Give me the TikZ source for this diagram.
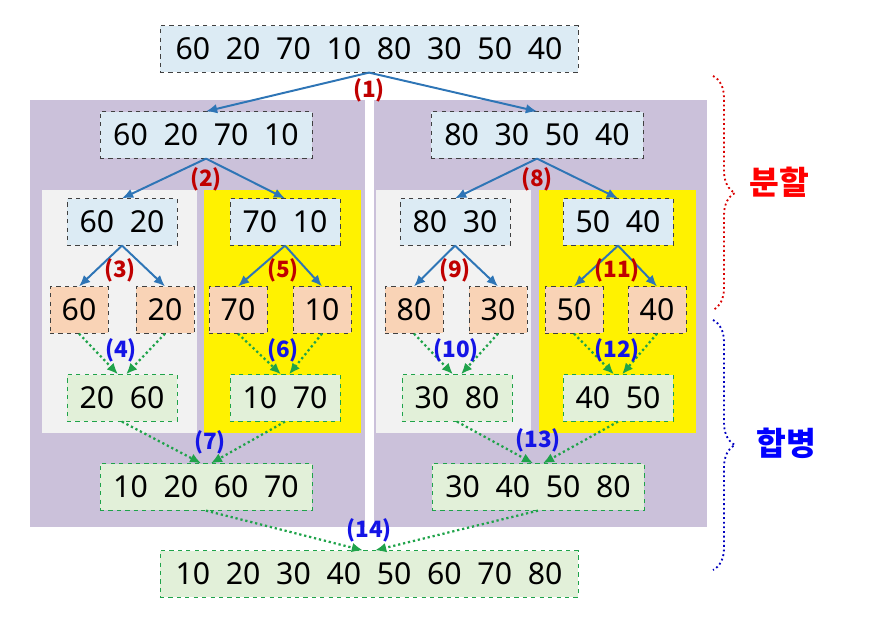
\documentclass[tikz,border=0pt]{standalone}
\usepackage{fontspec}
\setmainfont{Noto Sans}
\newfontfamily\krfont{Noto Sans CJK KR}
\usetikzlibrary{arrows.meta,positioning,decorations.pathreplacing}
\definecolor{splitfill}{HTML}{DCEBF4}
\definecolor{leaffill}{HTML}{F9D3B6}
\definecolor{mergefill}{HTML}{E2F0D9}
\definecolor{boxline}{HTML}{404040}
\definecolor{mergegreen}{HTML}{1FA34A}
\definecolor{splitarrow}{HTML}{2E75B6}
\definecolor{splitred}{HTML}{C00000}
\definecolor{mergeblue}{HTML}{1414E6}
\definecolor{panelpurple}{HTML}{CBC1DA}
\definecolor{panelgrey}{HTML}{F2F2F2}
\newcommand{\numsize}{\fontsize{21.5}{24}\selectfont}
\newcommand{\lblsize}{\krfont\fontsize{16}{18}\selectfont\bfseries}
\tikzstyle{box} = [rectangle, draw=boxline, dashed, line width=0.6pt, fill=splitfill, minimum height=1.16cm, inner sep=0pt, font=\numsize]
\tikzstyle{leaf} = [box, fill=leaffill, minimum width=1.45cm]
\tikzstyle{merged} = [box, draw=mergegreen, fill=mergefill]
\tikzstyle{line} = [draw, -{Latex[length=2.8mm,width=2.4mm]}, splitarrow, line width=1.4pt]
\tikzstyle{mline} = [draw, -{Latex[length=2.8mm,width=2.4mm]}, mergegreen, dotted, line width=1.6pt]
\tikzstyle{splitlbl} = [text=splitred, font=\lblsize, inner sep=0pt]
\tikzstyle{mergelbl} = [text=mergeblue, font=\lblsize, inner sep=0pt]
\tikzstyle{phase} = [dotted, line width=1.3pt, decorate, decoration={brace, amplitude=0.55cm}]

\begin{document}
\begin{tikzpicture}[x=0.025cm, y=-0.025cm]
        \useasboundingbox (0,0) rectangle (872,636);
        % panels
        \fill[panelpurple] (30,100) rectangle (365,527);
        \fill[panelpurple] (374,100) rectangle (707,527);
        \fill[panelgrey] (42,190) rectangle (197,433);
        \fill[yellow] (204,190) rectangle (361,433);
        \fill[panelgrey] (376,190) rectangle (531,433);
        \fill[yellow] (539,190) rectangle (696,433);

        % split
        \node[box, minimum width=10.45cm] (all)   at (369,49)  {60~~20~~70~~10~~80~~30~~50~~40};
        \node[box, minimum width=5.3cm]   (left)  at (206,135) {60~~20~~70~~10};
        \node[box, minimum width=5.3cm]   (right) at (537,135) {80~~30~~50~~40};
        \node[box, minimum width=2.75cm]  (l1)    at (122,222) {60~~20};
        \node[box, minimum width=2.75cm]  (l2)    at (285,222) {70~~10};
        \node[box, minimum width=2.75cm]  (r1)    at (455,222) {80~~30};
        \node[box, minimum width=2.75cm]  (r2)    at (618,222) {50~~40};
        \node[leaf] (la) at (79,310)  {60};
        \node[leaf] (lb) at (165,310) {20};
        \node[leaf] (lc) at (238,310) {70};
        \node[leaf] (ld) at (322,310) {10};
        \node[leaf] (ra) at (414,310) {80};
        \node[leaf] (rb) at (498,310) {30};
        \node[leaf] (rc) at (574,310) {50};
        \node[leaf] (rd) at (657,310) {40};

        % merge
        \node[merged, minimum width=2.75cm]  (ml1)    at (122,398) {20~~60};
        \node[merged, minimum width=2.75cm]  (ml2)    at (285,398) {10~~70};
        \node[merged, minimum width=2.75cm]  (mr1)    at (457,398) {30~~80};
        \node[merged, minimum width=2.75cm]  (mr2)    at (618,398) {40~~50};
        \node[merged, minimum width=5.3cm]   (mleft)  at (206,487) {10~~20~~60~~70};
        \node[merged, minimum width=5.3cm]   (mright) at (538,487) {30~~40~~50~~80};
        \node[merged, minimum width=10.45cm] (sorted) at (369,574) {10~~20~~30~~40~~50~~60~~70~~80};

        \path[line] (all.south) -- (left.north);
        \path[line] (all.south) -- (right.north);
        \path[line] (left.south) -- (l1.north);
        \path[line] (left.south) -- (l2.north);
        \path[line] (right.south) -- (r1.north);
        \path[line] (right.south) -- (r2.north);
        \path[line] (l1.south) -- (la.north);
        \path[line] (l1.south) -- (lb.north);
        \path[line] (l2.south) -- (lc.north);
        \path[line] (l2.south) -- (ld.north);
        \path[line] (r1.south) -- (ra.north);
        \path[line] (r1.south) -- (rb.north);
        \path[line] (r2.south) -- (rc.north);
        \path[line] (r2.south) -- (rd.north);

        \path[mline] (la.south) -- ([xshift=-0.1cm]ml1.north);
        \path[mline] (lb.south) -- ([xshift=0.1cm]ml1.north);
        \path[mline] (lc.south) -- ([xshift=-0.1cm]ml2.north);
        \path[mline] (ld.south) -- ([xshift=0.1cm]ml2.north);
        \path[mline] (ra.south) -- ([xshift=-0.1cm]mr1.north);
        \path[mline] (rb.south) -- ([xshift=0.1cm]mr1.north);
        \path[mline] (rc.south) -- ([xshift=-0.1cm]mr2.north);
        \path[mline] (rd.south) -- ([xshift=0.1cm]mr2.north);
        \path[mline] (ml1.south) -- ([xshift=-0.12cm]mleft.north);
        \path[mline] (ml2.south) -- ([xshift=0.12cm]mleft.north);
        \path[mline] (mr1.south) -- ([xshift=-0.12cm]mright.north);
        \path[mline] (mr2.south) -- ([xshift=0.12cm]mright.north);
        \path[mline] (mleft.south) -- ([xshift=-0.15cm]sorted.north);
        \path[mline] (mright.south) -- ([xshift=0.15cm]sorted.north);

        % step labels
        \node[splitlbl] (s1)  at (369,90)  {(1)};
        \node[splitlbl] (s2)  at (206,179) {(2)};
        \node[splitlbl] (s3)  at (120,270) {(3)};
        \node[splitlbl] (s5)  at (283,270) {(5)};
        \node[splitlbl] (s8)  at (537,179) {(8)};
        \node[splitlbl] (s9)  at (455,270) {(9)};
        \node[splitlbl] (s11) at (617,270) {(11)};
        \node[mergelbl] (m4)  at (121,350) {(4)};
        \node[mergelbl] (m6)  at (283,350) {(6)};
        \node[mergelbl] (m10) at (456,350) {(10)};
        \node[mergelbl] (m12) at (617,350) {(12)};
        \node[mergelbl] (m7)  at (210,442) {(7)};
        \node[mergelbl] (m13) at (538,440) {(13)};
        \node[mergelbl] (m14) at (369,530) {(14)};

        % phases
        \coordinate (splittop) at (713,76);
        \coordinate (splitbot) at (713,310);
        \coordinate (mergetop) at (713,320);
        \coordinate (mergebot) at (713,570);
        \draw[phase, red!85!black] (splittop) -- (splitbot);
        \draw[phase, blue!75!black] (mergetop) -- (mergebot);
        \node[text=red, font=\krfont\fontsize{23}{26}\selectfont\bfseries] (split) at (779,182) {분할};
        \node[text=blue, font=\krfont\fontsize{23}{26}\selectfont\bfseries] (merge) at (786,443) {합병};
      \end{tikzpicture}
\end{document}
